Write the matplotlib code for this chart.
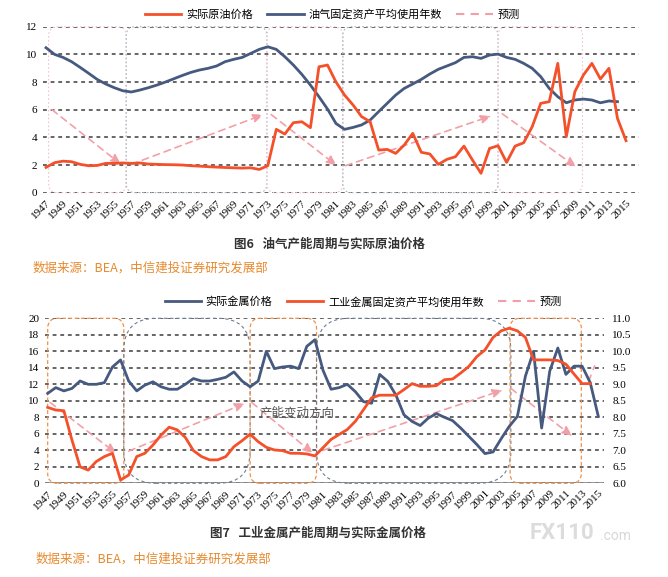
import matplotlib
matplotlib.use('Agg')
import matplotlib.pyplot as plt
from matplotlib.patches import FancyBboxPatch
from matplotlib.lines import Line2D

# ---------------- data ----------------
years_price = list(range(1947, 2016))
years_age = list(range(1947, 2015))

oil_price = [1.83, 2.17, 2.28, 2.24, 2.05, 1.95, 1.97, 2.12, 2.12, 2.15,
             2.12, 2.15, 2.07, 2.05, 2.03, 2.02, 2.00, 1.95, 1.92, 1.88,
             1.85, 1.82, 1.80, 1.78, 1.80, 1.68, 1.95, 4.58, 4.24, 5.06,
             5.13, 4.70, 9.10, 9.23, 8.00, 7.06, 6.34, 5.50, 5.13, 3.08,
             3.13, 2.84, 3.45, 4.29, 2.92, 2.80, 2.05, 2.41, 2.60, 3.37,
             2.36, 1.40, 3.20, 3.40, 2.19, 3.37, 3.61, 4.77, 6.46, 6.58,
             9.35, 4.05, 7.30, 8.50, 9.35, 8.22, 8.99, 5.37, 3.76]

oil_age = [10.48, 10.00, 9.78, 9.47, 9.06, 8.63, 8.19, 7.86, 7.59, 7.37,
           7.28, 7.42, 7.59, 7.78, 8.00, 8.24, 8.48, 8.70, 8.87, 8.99,
           9.16, 9.47, 9.64, 9.78, 10.07, 10.36, 10.55, 10.36, 9.83, 9.23,
           8.55, 7.78, 6.94, 6.05, 5.00, 4.58, 4.72, 4.90, 5.25, 5.86,
           6.46, 7.06, 7.54, 7.86, 8.19, 8.58, 8.92, 9.16, 9.40, 9.78,
           9.83, 9.71, 9.95, 10.02, 9.78, 9.64, 9.35, 8.99, 8.39, 7.54,
           6.94, 6.50, 6.70, 6.77, 6.70, 6.50, 6.63, 6.58]

metal_price = [10.9, 11.6, 11.2, 11.5, 12.4, 12.0, 12.0, 12.2, 14.1, 14.95,
               12.4, 11.2, 11.9, 12.3, 11.7, 11.4, 11.4, 12.0, 12.7, 12.4,
               12.4, 12.6, 12.85, 13.5, 12.4, 11.7, 12.4, 16.0, 13.9, 14.1,
               14.2, 13.9, 16.6, 17.4, 13.7, 11.4, 11.6, 12.0, 11.1, 9.9,
               9.7, 13.2, 12.35, 10.7, 8.3, 7.5, 7.0, 7.9, 8.45, 8.0,
               7.6, 6.7, 5.7, 4.7, 3.6, 3.8, 5.4, 6.9, 8.1, 13.0,
               16.0, 6.7, 13.6, 16.4, 13.2, 14.2, 14.2, 12.2, 8.1]

metal_age = [8.30, 8.22, 8.20, 7.31, 6.50, 6.40, 6.66, 6.81, 6.91, 6.10,
             6.25, 6.81, 6.91, 7.16, 7.46, 7.70, 7.62, 7.39, 6.99, 6.81,
             6.71, 6.71, 6.81, 7.11, 7.29, 7.49, 7.26, 7.09, 7.01, 6.99,
             6.91, 6.91, 6.89, 6.83, 7.08, 7.33, 7.48, 7.63, 7.88, 8.23,
             8.59, 8.67, 8.67, 8.67, 8.84, 9.02, 8.94, 8.94, 8.96, 9.14,
             9.16, 9.34, 9.54, 9.84, 10.04, 10.42, 10.62, 10.70, 10.62, 10.42,
             9.74, 9.74, 9.74, 9.72, 9.61, 9.31, 9.02, 9.02]

# forecast arrows (x0, y0, x1, y1)
fc_top = [(1947.7, 6.0, 1955.8, 2.05), (1957.0, 2.05, 1972.5, 5.65),
          (1973.4, 5.65, 1981.1, 1.95), (1982.1, 1.95, 1999.2, 5.55),
          (2000.5, 5.7, 2009.2, 1.85)]
fc_bot = [(1947.3, 9.8, 1955.5, 3.6), (1957.0, 3.9, 1971.4, 9.7),
          (1972.2, 9.8, 1979.8, 3.6), (1981.0, 4.0, 2003.2, 11.3),
          (2004.2, 11.5, 2011.8, 5.7)]

# cycle boxes (start, end, kind)
cyc_top = [(1947.3, 1956.4, 'a'), (1956.4, 1972.9, 'b'), (1972.9, 1981.8, 'a'),
           (1981.8, 2000.0, 'b'), (2000.0, 2009.9, 'a')]
cyc_bot = [(1947.0, 1956.4, 'a'), (1956.4, 1972.0, 'b'), (1972.0, 1980.2, 'a'),
           (1980.2, 2004.2, 'b'), (2004.1, 2012.9, 'a')]

tick_years = list(range(1947, 2016, 2))

# ---------------- style ----------------
RED = '#F4502A'
BLUE = '#46597F'
PINK = '#F2A0A8'
GRID = '#3C3C3C'
SERIF = 'Liberation Serif'
CJK = ['Noto Sans CJK SC', 'DejaVu Sans']
plt.rcParams['font.family'] = CJK

W, H = 668, 577
fig = plt.figure(figsize=(W / 100, H / 100), dpi=100)
fig.patch.set_facecolor('white')


def px_axes(l, r, t, b):
    return fig.add_axes([l / W, 1 - b / H, (r - l) / W, (b - t) / H])


def style_axis(ax, yticks):
    for s in ax.spines.values():
        s.set_visible(False)
    ax.set_yticks(yticks)
    ax.tick_params(axis='both', length=0, labelsize=8, pad=4)
    ax.set_xticks(tick_years)
    ax.set_xticklabels([str(y) for y in tick_years], rotation=45,
                       ha='right', va='top', rotation_mode='anchor')
    for lab in ax.get_xticklabels() + ax.get_yticklabels():
        lab.set_family(SERIF)
    for y in yticks:
        ax.axhline(y, color=GRID, lw=1.1, ls=(0, (2.5, 2.5)), zorder=1)


def add_boxes(ax, cycles, y0, y1, colors, radii):
    p00 = ax.transData.transform((1950, 0))
    p11 = ax.transData.transform((1951, 1))
    dx_px = p11[0] - p00[0]
    dy_px = p11[1] - p00[1]
    aspect = (1 / dy_px) / (1 / dx_px)
    for x0, x1, k in cycles:
        r = radii[k] / dx_px
        box = FancyBboxPatch((x0, y0), x1 - x0, y1 - y0,
                             boxstyle=f'round,pad=0,rounding_size={r}',
                             mutation_aspect=aspect, fill=False,
                             ec=colors[k][0], lw=colors[k][1],
                             ls=colors[k][2], zorder=1.5, clip_on=False)
        ax.add_patch(box)


def add_arrows(ax, arrows):
    for x0, y0, x1, y1 in arrows:
        ax.annotate('', xy=(x1, y1), xytext=(x0, y0),
                    arrowprops=dict(arrowstyle='-|>,head_length=0.6,head_width=0.25',
                                    color=PINK, lw=1.2, ls=(0, (4, 3)),
                                    shrinkA=0, shrinkB=0), zorder=2)


# ---------------- top chart ----------------
ax1 = px_axes(42.6, 638.8, 26.7, 192.7)
ax1.set_xlim(1946.6, 2016.5)
ax1.set_ylim(0, 12)
style_axis(ax1, list(range(0, 13, 2)))
add_boxes(ax1, cyc_top, 0, 12,
          {'a': ('#F3C4CF', 0.8, (0, (1.5, 2))), 'b': ('#A9B6C4', 0.8, (0, (1.5, 2)))},
          {'a': 9, 'b': 9})
add_arrows(ax1, fc_top)
ax1.plot(years_price, oil_price, color=RED, lw=2.0, zorder=4)
ax1.plot(years_age, oil_age, color=BLUE, lw=2.0, zorder=3)

h1 = [Line2D([], [], color=RED, lw=2.0), Line2D([], [], color=BLUE, lw=2.0),
      Line2D([], [], color=PINK, lw=1.5, ls=(0, (4, 3)))]
fig.legend(h1, ['实际原油价格', '油气固定资产平均使用年数', '预测'],
           loc='center', bbox_to_anchor=(332 / W, 1 - 15 / H), ncol=3,
           frameon=False, fontsize=8, handlelength=3.3, columnspacing=1.3,
           handletextpad=0.4)

# ---------------- bottom chart ----------------
ax2 = px_axes(45, 604, 318.3, 483.3)
ax2.set_xlim(1946.67, 2015.7)
ax2.set_ylim(0, 20)
style_axis(ax2, list(range(0, 21, 2)))
ax2.axhline(0, color='#888888', lw=1.2, zorder=1.2)
add_boxes(ax2, cyc_bot, 0, 20,
          {'a': ('#F0904A', 0.9, (0, (3, 2))), 'b': ('#6E7E92', 0.8, (0, (3, 2.5)))},
          {'a': 10, 'b': 32})
add_arrows(ax2, fc_bot)
ax2.plot([2013.9, 2014.6], [12.6, 14.4], color=PINK, lw=1.2, ls=(0, (3, 3)))
ax2.plot(years_price, metal_price, color=BLUE, lw=2.0, zorder=4)

ax3 = ax2.twinx()
ax3.set_ylim(6, 11)
for s in ax3.spines.values():
    s.set_visible(False)
ax3.set_yticks([6 + 0.5 * i for i in range(11)])
ax3.set_yticklabels([f'{6 + 0.5 * i:.1f}' for i in range(11)])
ax3.tick_params(axis='y', length=0, labelsize=8, pad=6)
for lab in ax3.get_yticklabels():
    lab.set_family(SERIF)
ax3.plot(years_age, metal_age, color=RED, lw=2.0, zorder=4)

ax2.text(1977.8, 8.5, '产能变动方向', fontsize=9, color='#555555',
         ha='center', va='center', zorder=5)

h2 = [Line2D([], [], color=BLUE, lw=2.0), Line2D([], [], color=RED, lw=2.0),
      Line2D([], [], color=PINK, lw=1.5, ls=(0, (4, 3)))]
fig.legend(h2, ['实际金属价格', '工业金属固定资产平均使用年数', '预测'],
           loc='center', bbox_to_anchor=(363 / W, 1 - 302 / H), ncol=3,
           frameon=False, fontsize=8, handlelength=3.3, columnspacing=1.3,
           handletextpad=0.4)

# ---------------- captions ----------------
fig.text(330 / W, 1 - 244 / H, '图6   油气产能周期与实际原油价格', fontsize=9,
         fontweight='bold', color='#333333', ha='center', va='center')
fig.text(33 / W, 1 - 268 / H, '数据来源：BEA，中信建投证券研究发展部', fontsize=9,
         color='#E88A2E', ha='left', va='center')
fig.text(318 / W, 1 - 533 / H, '图7   工业金属产能周期与实际金属价格', fontsize=9,
         fontweight='bold', color='#333333', ha='center', va='center')
fig.text(36 / W, 1 - 559 / H, '数据来源：BEA，中信建投证券研究发展部', fontsize=9,
         color='#E88A2E', ha='left', va='center')

# watermark
fig.text(530 / W, 1 - 533 / H, 'FX110', fontsize=16, fontweight='bold',
         color='#DCDCDC', ha='left', va='center', family='Roboto')
fig.text(600 / W, 1 - 536 / H, '.com', fontsize=10, color='#D8D8D8',
         ha='left', va='center', family='Roboto', zorder=10)

fig.savefig('out.png', dpi=100, facecolor='white')
